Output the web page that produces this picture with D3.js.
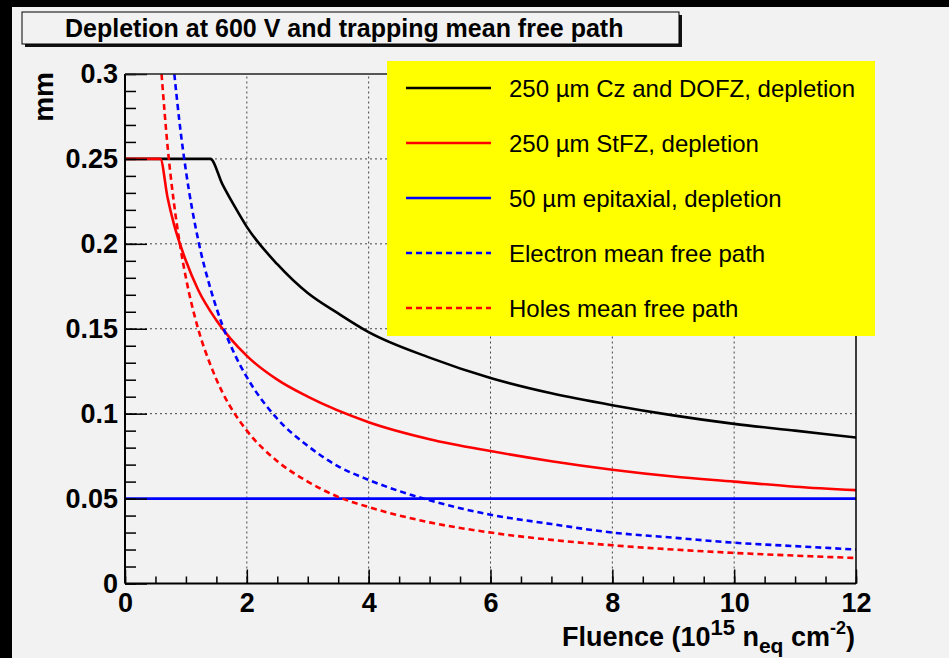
<!DOCTYPE html>
<html>
<head>
<meta charset="utf-8">
<script src="https://cdn.jsdelivr.net/npm/d3@7"></script>
<style>
  body { margin: 0; background: #000; }
  svg { display: block; }
  text { font-family: "Liberation Sans", Arial, Helvetica, sans-serif; }
</style>
</head>
<body>
<div id="chart"></div>
<script>
// Fluence in 10^15 neq/cm2, thickness in mm
const cz_fluence = [0, 0.5, 1, 1.4, 1.6, 1.8, 2, 2.5, 3, 3.5, 4, 5, 6, 7, 8, 9, 10, 11, 12];
const cz_depl = [0.25, 0.25, 0.25, 0.25, 0.235, 0.222, 0.21, 0.188, 0.171, 0.159, 0.148, 0.133, 0.121, 0.112, 0.105, 0.099, 0.094, 0.090, 0.086];

const stfz_fluence = [0, 0.3, 0.58, 0.7, 0.8, 1, 1.2, 1.5, 2, 2.5, 3, 4, 5, 6, 7, 8, 9, 10, 11, 12];
const stfz_depl = [0.25, 0.25, 0.25, 0.227, 0.212, 0.19, 0.173, 0.155, 0.134, 0.120, 0.110, 0.095, 0.085, 0.078, 0.072, 0.067, 0.063, 0.060, 0.057, 0.055];

const epi_fluence = [0, 12];
const epi_depl = [0.05, 0.05];

const elec_fluence = [0.81, 0.9, 1, 1.2, 1.4, 1.6, 1.8, 2, 2.5, 3, 3.5, 4, 5, 6, 7, 8, 9, 10, 11, 12];
const elec_path = [0.30, 0.27, 0.243, 0.2025, 0.174, 0.152, 0.135, 0.1215, 0.097, 0.081, 0.069, 0.061, 0.049, 0.0405, 0.035, 0.030, 0.027, 0.024, 0.022, 0.020];

const hole_fluence = [0.6, 0.7, 0.8, 0.9, 1, 1.2, 1.4, 1.6, 1.8, 2, 2.5, 3, 3.5, 4, 5, 6, 7, 8, 9, 10, 11, 12];
const hole_path = [0.30, 0.257, 0.225, 0.2, 0.18, 0.15, 0.129, 0.1125, 0.1, 0.09, 0.072, 0.06, 0.051, 0.045, 0.036, 0.03, 0.0257, 0.0225, 0.02, 0.018, 0.0164, 0.015];

const legendLabels = ["250 \u00b5m Cz and DOFZ, depletion", "250 \u00b5m StFZ, depletion", "50 \u00b5m epitaxial, depletion", "Electron mean free path", "Holes mean free path"];
const xTicks = [0, 2, 4, 6, 8, 10, 12];
const yTicks = [0, 0.05, 0.1, 0.15, 0.2, 0.25, 0.3];

const width = 949, height = 658;

const svg = d3.select("#chart").append("svg")
    .attr("width", width)
    .attr("height", height);

// fond gris clair + bord noir en haut/gauche
svg.append("rect").attr("width", width).attr("height", height).attr("fill", "#000");
svg.append("rect").attr("x", 12).attr("y", 7).attr("width", width - 12).attr("height", height - 7).attr("fill", "#f2f2f2");

const x = d3.scaleLinear().domain([0, 12]).range([125, 856]);
const y = d3.scaleLinear().domain([0, 0.3]).range([583.5, 74]);

// grille pointillée
const grid = svg.append("g");
grid.selectAll("line.gx")
    .data(xTicks.slice(1, -1))
    .enter().append("line")
    .attr("x1", d => x(d)).attr("x2", d => x(d))
    .attr("y1", y(0)).attr("y2", y(0.3))
    .attr("stroke", "#444").attr("stroke-width", 1).attr("stroke-dasharray", "2,3");
grid.selectAll("line.gy")
    .data(yTicks.slice(1, -1))
    .enter().append("line")
    .attr("x1", x(0)).attr("x2", x(12))
    .attr("y1", d => y(d)).attr("y2", d => y(d))
    .attr("stroke", "#444").attr("stroke-width", 1).attr("stroke-dasharray", "2,3");

// courbes
svg.append("clipPath").attr("id", "clip")
    .append("rect").attr("x", x(0)).attr("y", y(0.3)).attr("width", x(12) - x(0)).attr("height", y(0) - y(0.3));

const line = d3.line().x(d => x(d[0])).y(d => y(d[1])).curve(d3.curveMonotoneX);
const series = [
    { xs: cz_fluence, ys: cz_depl, color: "#000000", dash: null },
    { xs: stfz_fluence, ys: stfz_depl, color: "#ff0000", dash: null },
    { xs: epi_fluence, ys: epi_depl, color: "#0000ff", dash: null },
    { xs: elec_fluence, ys: elec_path, color: "#0000ff", dash: "6,4" },
    { xs: hole_fluence, ys: hole_path, color: "#ff0000", dash: "6,4" }
];
const curves = svg.append("g").attr("clip-path", "url(#clip)");
series.forEach(s => {
    curves.append("path")
        .datum(d3.zip(s.xs, s.ys))
        .attr("d", line)
        .attr("fill", "none")
        .attr("stroke", s.color)
        .attr("stroke-width", 2.6)
        .attr("stroke-dasharray", s.dash);
});

// axes
const tickFont = g => g.selectAll("text")
    .style("font-size", "27px").style("font-weight", "bold").attr("fill", "#000");

svg.append("g")
    .attr("transform", `translate(0,${y(0)})`)
    .call(d3.axisBottom(x).tickValues(d3.range(0, 12.01, 0.5)).tickSize(-7).tickFormat(""))
    .call(g => g.select(".domain").remove());
svg.append("g")
    .attr("transform", `translate(0,${y(0)})`)
    .call(d3.axisBottom(x).tickValues(xTicks).tickSize(-14).tickPadding(9.5).tickFormat(d3.format("d")))
    .call(g => g.select(".domain").remove())
    .call(tickFont);

svg.append("g")
    .attr("transform", `translate(${x(0)},0)`)
    .call(d3.axisLeft(y).tickValues(d3.range(0, 0.3001, 0.01)).tickSize(-11).tickFormat(""))
    .call(g => g.select(".domain").remove());
svg.append("g")
    .attr("transform", `translate(${x(0)},0)`)
    .call(d3.axisLeft(y).tickValues(yTicks).tickSize(-22).tickPadding(7).tickFormat(d => d === 0 ? "0" : d3.format("")(+d.toFixed(2))))
    .call(g => g.select(".domain").remove())
    .call(tickFont);

svg.selectAll(".tick line").attr("stroke", "#000").attr("stroke-width", 1.5);

// cadre
svg.append("line").attr("x1", x(0)).attr("x2", x(12)).attr("y1", y(0)).attr("y2", y(0)).attr("stroke", "#000").attr("stroke-width", 2);
svg.append("line").attr("x1", x(0)).attr("x2", x(0)).attr("y1", y(0)).attr("y2", y(0.3)).attr("stroke", "#000").attr("stroke-width", 2);
svg.append("line").attr("x1", x(0)).attr("x2", x(12)).attr("y1", y(0.3)).attr("y2", y(0.3)).attr("stroke", "#222").attr("stroke-width", 1.5);
svg.append("line").attr("x1", x(12)).attr("x2", x(12)).attr("y1", y(0)).attr("y2", y(0.3)).attr("stroke", "#000").attr("stroke-width", 1.5);

// légende
const legend = svg.append("g");
legend.append("rect")
    .attr("x", 387).attr("y", 61).attr("width", 488).attr("height", 275)
    .attr("fill", "#ffff00");
const rows = legend.selectAll("g.row")
    .data(series)
    .enter().append("g")
    .attr("transform", (d, i) => `translate(0,${88 + i * 55})`);
rows.append("line")
    .attr("x1", 406).attr("x2", 491)
    .attr("stroke", d => d.color)
    .attr("stroke-width", 2.4)
    .attr("stroke-dasharray", d => d.dash);
rows.append("text")
    .attr("x", 509).attr("y", 8.5)
    .style("font-size", "24px")
    .text((d, i) => legendLabels[i]);

// titre
svg.append("rect").attr("x", 25).attr("y", 15).attr("width", 657).attr("height", 32).attr("fill", "#111");
svg.append("rect").attr("x", 22).attr("y", 12).attr("width", 657).attr("height", 32)
    .attr("fill", "#f2f2f2").attr("stroke", "#000").attr("stroke-width", 1);
svg.append("text")
    .attr("x", 65).attr("y", 37)
    .style("font-size", "25px").style("font-weight", "bold")
    .text("Depletion at 600 V and trapping mean free path");

// titre axe Y
svg.append("text")
    .attr("transform", "translate(53,72) rotate(-90)")
    .attr("text-anchor", "end")
    .style("font-size", "28px").style("font-weight", "bold")
    .text("mm");

// titre axe X
const xt = svg.append("text")
    .attr("x", 855).attr("y", 646)
    .attr("text-anchor", "end")
    .style("font-size", "27px").style("font-weight", "bold");
xt.append("tspan").text("Fluence (10");
xt.append("tspan").attr("dy", -11).style("font-size", "22px").text("15");
xt.append("tspan").attr("dy", 11).text(" n");
xt.append("tspan").attr("dy", 7).style("font-size", "21px").text("eq");
xt.append("tspan").attr("dy", -7).text(" cm");
xt.append("tspan").attr("dy", -12).style("font-size", "18px").text("-2");
xt.append("tspan").attr("dy", 12).text(")");
</script>
</body>
</html>
